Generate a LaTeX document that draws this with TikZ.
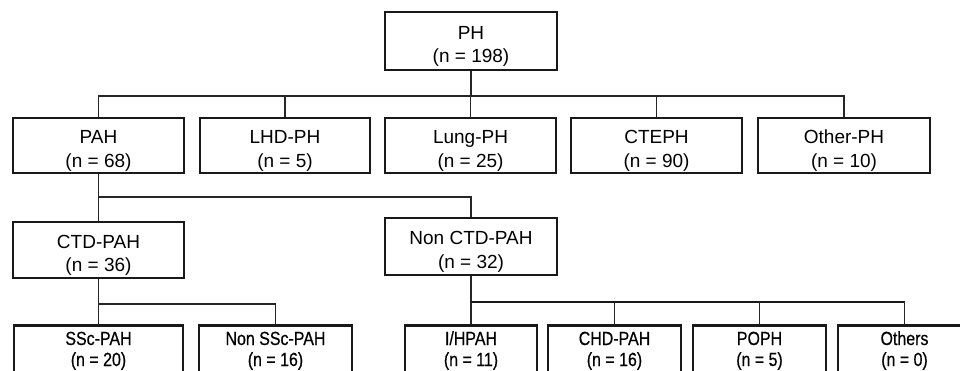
\documentclass[tikz,border=0pt]{standalone}
\usepackage{fontspec}
\setmainfont{Liberation Sans}
\newfontfamily\narrowf[FakeStretch=0.84,FakeBold=0.5]{Liberation Sans}
\begin{document}
\begin{tikzpicture}[x=1pt,y=1pt,
  box/.style={draw=black!90,line width=2.6pt,inner sep=0pt,align=center,
    font=\fontsize{19}{23.5}\selectfont},
  topbox/.style={box,minimum width=171pt,minimum height=55pt,
    text height=47pt,text depth=4pt},
  lowbox/.style={box,minimum height=50pt,font=\narrowf\fontsize{19}{21}\selectfont,
    text height=35pt,text depth=4pt},
  conn/.style={draw=black!85,line width=1.6pt},
  thickconn/.style={draw=black!90,line width=2.4pt}]
\useasboundingbox (0,0) rectangle (960,-370);
\clip (0,0) rectangle (960,-370);
\fill[white] (0,0) rectangle (960,-370);
% top
\node[topbox,minimum width=172pt,minimum height=58pt] (PH) at (471,-41) {PH\\(n = 198)};
% row 2
\node[topbox] (PAH) at (98.5,-145.5) {PAH\\(n = 68)};
\node[topbox,minimum width=170pt] (LHD) at (285,-145.5) {LHD-PH\\(n = 5)};
\node[topbox] (Lung) at (470.5,-145.5) {Lung-PH\\(n = 25)};
\node[topbox] (CTEPH) at (656.5,-145.5) {CTEPH\\(n = 90)};
\node[topbox,minimum width=172pt] (Other) at (844,-145.5) {Other-PH\\(n = 10)};
% row 3
\node[topbox,minimum height=56pt] (CTD) at (98.5,-250) {CTD-PAH\\(n = 36)};
\node[topbox,minimum width=172pt,minimum height=57pt] (NonCTD) at (471,-246.5) {Non CTD-PAH\\(n = 32)};
% row 4
\node[lowbox,minimum width=169pt] (SSc) at (98.5,-350.5) {SSc-PAH\\(n = 20)};
\node[lowbox,minimum width=153pt] (NonSSc) at (275.5,-350.5) {Non SSc-PAH\\(n = 16)};
\node[lowbox,minimum width=132pt] (IH) at (471,-350.5) {I/HPAH\\(n = 11)};
\node[lowbox,minimum width=133pt] (CHD) at (614.5,-350.5) {CHD-PAH\\(n = 16)};
\node[lowbox,minimum width=133pt] (POPH) at (759.5,-350.5) {POPH\\(n = 5)};
\node[lowbox,minimum width=133pt] (Others) at (904.5,-350.5) {Others\\(n = 0)};
% bus coordinates
\coordinate (b1) at (0,-96);
\coordinate (b2) at (0,-197);
\coordinate (b3) at (0,-304);
\coordinate (b4) at (0,-302);
% PH -> row 2
\draw[conn] (PH.south) -- (PH.south |- b1);
\draw[conn] (PAH.north) -- (PAH.north |- b1) -- (Other.north |- b1) -- (Other.north);
\foreach \n in {LHD,Lung,CTEPH} \draw[conn] (\n.north) -- (\n.north |- b1);
% PAH -> row 3
\draw[conn] (PAH.south) -- (CTD.north);
\draw[conn] (PAH.south |- b2) -- (NonCTD.north |- b2) -- (NonCTD.north);
% CTD -> row 4
\draw[conn] (CTD.south) -- (SSc.north);
\draw[conn] (CTD.south |- b3) -- (NonSSc.north |- b3) -- (NonSSc.north);
% NonCTD -> row 4
\draw[conn] (NonCTD.south) -- (IH.north);
\draw[thickconn] (IH.north |- b4) -- (Others.north |- b4);
\draw[conn] (Others.north |- b4) -- (Others.north);
\foreach \n in {CHD,POPH} \draw[conn] (\n.north) -- (\n.north |- b4);
\end{tikzpicture}
\end{document}
